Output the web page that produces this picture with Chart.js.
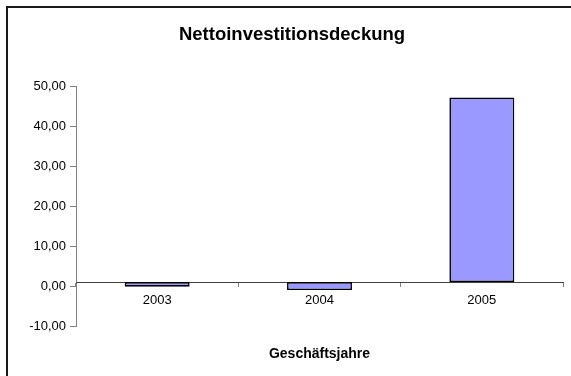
<!DOCTYPE html>
<html lang="de">
<head>
<meta charset="utf-8">
<title>Nettoinvestitionsdeckung</title>
<script src="https://cdn.jsdelivr.net/npm/chart.js@4.4.1/dist/chart.umd.min.js"></script>
<style>
  html, body { margin: 0; padding: 0; background: #fff; overflow: hidden; }
  body { width: 571px; height: 376px; position: relative; }
  .rahmen {
    position: absolute; left: 6px; top: 6px;
    width: 700px; height: 500px;
    border: 2px solid #1a1a1a;
  }
  /* Diagrammobjekt ist etwas breiter als das Fenster */
  .wrap { position: absolute; left: 0; top: 0; width: 584px; height: 376px; }
</style>
</head>
<body>
<div class="rahmen"></div>
<div class="wrap"><canvas id="chart-netto"></canvas></div>

<script>
// ─── Daten ──────────────────────────────────────
const jahre      = ['2003', '2004', '2005'];
const deckung    = [-0.15, -1.0, 47.2];
const achseKreuz = 1;          // Rubrikenachse schneidet hier
const yTicks     = [-10, 0, 10, 20, 30, 40, 50];

const schrift = "'Liberation Sans', Arial, sans-serif";

function fmtDE(v) {
  return v.toFixed(2).replace('.', ',');
}

const canvas = document.getElementById('chart-netto');

new Chart(canvas, {
  type: 'bar',
  data: {
    labels: jahre,
    datasets: [{
      label: 'Nettoinvestitionsdeckung',
      data: deckung,
      base: achseKreuz,
      backgroundColor: '#9999FF',
      borderColor: '#000000',
      borderWidth: 1.6,
      borderSkipped: false,
      categoryPercentage: 1,
      barPercentage: 0.4,
    }],
  },
  options: {
    responsive: true,
    maintainAspectRatio: false,
    animation: false,
    layout: { padding: { left: 21, right: 21, top: 0, bottom: 50 } },
    plugins: {
      legend: { display: false },
      tooltip: { enabled: false },
      title: {
        display: true,
        text: 'Nettoinvestitionsdeckung',
        color: '#000',
        font: { family: schrift, size: 18.5, weight: 'bold' },
        padding: { top: 24, bottom: 40 },
      },
    },
    scales: {
      y: {
        min: yTicks[0],
        max: yTicks[yTicks.length - 1],
        afterBuildTicks: (axis) => { axis.ticks = yTicks.map(v => ({ value: v })); },
        afterFit: (axis) => { axis.width = 55; },
        border: { display: true, color: '#808080', width: 1 },
        grid: { drawOnChartArea: false, drawTicks: true, tickLength: 6, color: '#808080' },
        ticks: {
          color: '#000',
          padding: 4,
          font: { family: schrift, size: 13 },
          callback: (v) => fmtDE(v),
        },
      },
      x: {
        position: { y: achseKreuz },
        border: { display: true, color: '#404040', width: 1 },
        grid: { drawOnChartArea: false, drawTicks: true, tickLength: 4, color: '#808080', offset: true },
        ticks: {
          color: '#000',
          padding: 7,
          maxRotation: 0,
          font: { family: schrift, size: 13 },
        },
        title: {
          display: true,
          text: 'Geschäftsjahre',
          color: '#000',
          font: { family: schrift, size: 14, weight: 'bold' },
          padding: { top: 30, bottom: 0 },
        },
      },
    },
  },
});
</script>
</body>
</html>
